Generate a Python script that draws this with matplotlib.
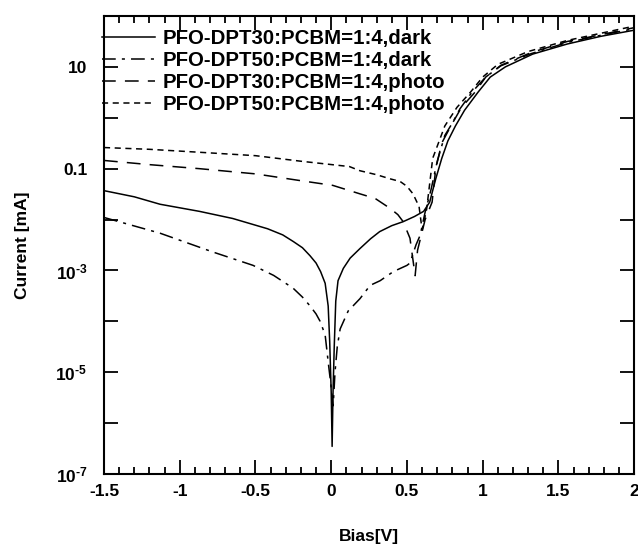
import numpy as np
import matplotlib
matplotlib.use("Agg")
import matplotlib.pyplot as plt
from matplotlib.ticker import FixedLocator, NullFormatter

plt.rcParams['font.family'] = ['Liberation Sans', 'DejaVu Sans']
plt.rcParams['font.weight'] = 'bold'
plt.rcParams['axes.unicode_minus'] = False
plt.rcParams['mathtext.fontset'] = 'custom'
plt.rcParams['mathtext.rm'] = 'Liberation Sans:bold'
plt.rcParams['mathtext.bf'] = 'Liberation Sans:bold'
plt.rcParams['mathtext.default'] = 'bf'

# PFO-DPT30:PCBM=1:4, dark  (bias in V, current in mA)
v_dpt30_dark = [-1.5, -1.3, -1.13, -0.87, -0.65, -0.42, -0.32, -0.25, -0.19, -0.14,
                -0.1, -0.07, -0.04, -0.02, -0.01, 0.0, 0.006, 0.012, 0.02, 0.03,
                0.045, 0.08, 0.125, 0.19, 0.26, 0.32, 0.40, 0.475, 0.55, 0.61,
                0.65, 0.69, 0.73, 0.77, 0.82, 0.88, 0.97, 1.05, 1.15, 1.33,
                1.56, 1.78, 2.0]
i_dpt30_dark = [3.7e-2, 2.8e-2, 2.0e-2, 1.45e-2, 1.05e-2, 6.6e-3, 5.0e-3, 3.7e-3, 2.8e-3, 1.95e-3,
                1.4e-3, 9.5e-4, 5.6e-4, 2.0e-4, 4.0e-5, 4.0e-6, 3.5e-7, 4.0e-6, 3.2e-5, 2.5e-4,
                6.3e-4, 1.1e-3, 1.75e-3, 2.7e-3, 4.2e-3, 5.8e-3, 7.6e-3, 9.1e-3, 1.15e-2, 1.45e-2,
                2.2e-2, 6.3e-2, 0.16, 0.35, 0.69, 1.4, 3.2, 6.3, 10.0, 17.8,
                28.2, 39.8, 52.5]

# PFO-DPT50:PCBM=1:4, dark
v_dpt50_dark = [-1.5, -1.13, -0.78, -0.516, -0.38, -0.252, -0.19, -0.139, -0.1, -0.073,
                -0.04, -0.02, 0.0, 0.013, 0.025, 0.04, 0.059, 0.112, 0.19, 0.257,
                0.323, 0.41, 0.50, 0.52, 0.56, 0.587, 0.62, 0.66, 0.70, 0.75,
                0.80, 0.85, 0.93, 1.02, 1.12, 1.32, 1.56, 1.78, 2.0]
i_dpt50_dark = [1.1e-2, 5.4e-3, 2.3e-3, 1.26e-3, 8.0e-4, 4.5e-4, 3.0e-4, 2.0e-4, 1.4e-4, 1.0e-4,
                5.4e-5, 1.6e-5, 5.0e-6, 2.2e-6, 1.0e-5, 3.2e-5, 7.1e-5, 1.6e-4, 2.8e-4, 5.1e-4,
                6.3e-4, 9.5e-4, 1.26e-3, 1.4e-3, 3.2e-3, 4.9e-3, 1.4e-2, 4.0e-2, 0.14, 0.45,
                0.79, 1.5, 3.2, 6.3, 10.5, 18.2, 30.2, 41.7, 56.2]

# PFO-DPT30:PCBM=1:4, photo
v_dpt30_photo = [-1.5, -1.2, -0.87, -0.5, -0.2, 0.01, 0.19, 0.29, 0.39, 0.44,
                 0.475, 0.52, 0.554, 0.57, 0.62, 0.666, 0.69, 0.73, 0.79, 0.86,
                 0.95, 1.02, 1.12, 1.32, 1.56, 1.78, 2.0]
i_dpt30_photo = [0.145, 0.12, 0.10, 7.9e-2, 5.8e-2, 4.7e-2, 3.2e-2, 2.6e-2, 1.65e-2, 1.25e-2,
                 9.1e-3, 4.3e-3, 7.9e-4, 2.5e-3, 1.0e-2, 2.2e-2, 0.1, 0.32, 0.69, 1.6,
                 3.2, 6.3, 10.7, 19.1, 31.6, 42.7, 58.9]

# PFO-DPT50:PCBM=1:4, photo
v_dpt50_photo = [-1.5, -1.2, -0.87, -0.5, -0.2, 0.12, 0.19, 0.3, 0.39, 0.455,
                 0.5, 0.54, 0.58, 0.60, 0.615, 0.63, 0.67, 0.75, 0.83, 0.92,
                 1.0, 1.1, 1.3, 1.56, 1.78, 2.0]
i_dpt50_photo = [0.26, 0.24, 0.21, 0.18, 0.14, 0.11, 9.1e-2, 7.6e-2, 6.3e-2, 5.6e-2,
                 4.5e-2, 3.2e-2, 1.8e-2, 6.3e-3, 1.0e-2, 1.6e-2, 0.16, 0.69, 1.6, 3.2,
                 6.3, 11.2, 20.0, 33.1, 45.7, 63.1]

labels = ['PFO-DPT30:PCBM=1:4,dark', 'PFO-DPT50:PCBM=1:4,dark',
          'PFO-DPT30:PCBM=1:4,photo', 'PFO-DPT50:PCBM=1:4,photo']

fig = plt.figure(figsize=(6.38, 5.5), dpi=100)
ax = fig.add_axes([0.163, 0.138, 0.831, 0.833])

ax.plot(v_dpt30_dark, i_dpt30_dark, color='black', lw=1.1, ls='-', label=labels[0])
ax.plot(v_dpt50_dark, i_dpt50_dark, color='black', lw=1.1, ls=(0, (9, 4, 2, 4)), label=labels[1])
ax.plot(v_dpt30_photo, i_dpt30_photo, color='black', lw=1.1, ls=(0, (9, 6)), label=labels[2])
ax.plot(v_dpt50_photo, i_dpt50_photo, color='black', lw=1.1, ls=(0, (4, 3)), label=labels[3])

ax.set_yscale('log')
ax.set_xlim(-1.5, 2.0)
ax.set_ylim(1e-7, 1e2)

xticks = [-1.5, -1, -0.5, 0, 0.5, 1, 1.5, 2]
ax.set_xticks(xticks)
ax.set_xticklabels(['-1.5', '-1', '-0.5', '0', '0.5', '1', '1.5', '2'])
ax.xaxis.set_minor_locator(FixedLocator(np.arange(-1.5, 2.01, 0.1)))

ax.yaxis.set_major_locator(FixedLocator([10.0 ** k for k in range(-7, 3)]))
ylabels = {-7: r'$10^{\text{-7}}$', -5: r'$10^{\text{-5}}$', -3: r'$10^{\text{-3}}$',
           -1: '0.1', 1: '10'}
ax.set_yticklabels([ylabels.get(k, '') for k in range(-7, 3)])
ax.yaxis.set_minor_formatter(NullFormatter())
ax.yaxis.set_minor_locator(FixedLocator([]))

ax.tick_params(which='both', direction='in', top=True, right=True, width=1.3)
ax.tick_params(which='major', length=10, labelsize=12.5)
ax.tick_params(axis='y', which='major', pad=12)
ax.tick_params(axis='x', which='major', pad=7)
ax.tick_params(which='minor', length=5)
for s in ax.spines.values():
    s.set_linewidth(1.5)

ax.set_xlabel('Bias[V]', fontsize=12.5, fontweight='bold', labelpad=22)
ax.set_ylabel('Current [mA]', fontsize=12.5, fontweight='bold', labelpad=18)

leg = ax.legend(loc='upper left', bbox_to_anchor=(-0.003, 0.972), frameon=False,
                fontsize=14.7, handlelength=2.6, handletextpad=0.35,
                labelspacing=0.15, borderaxespad=0.0, borderpad=0.0)

fig.savefig('out.png', dpi=100)
